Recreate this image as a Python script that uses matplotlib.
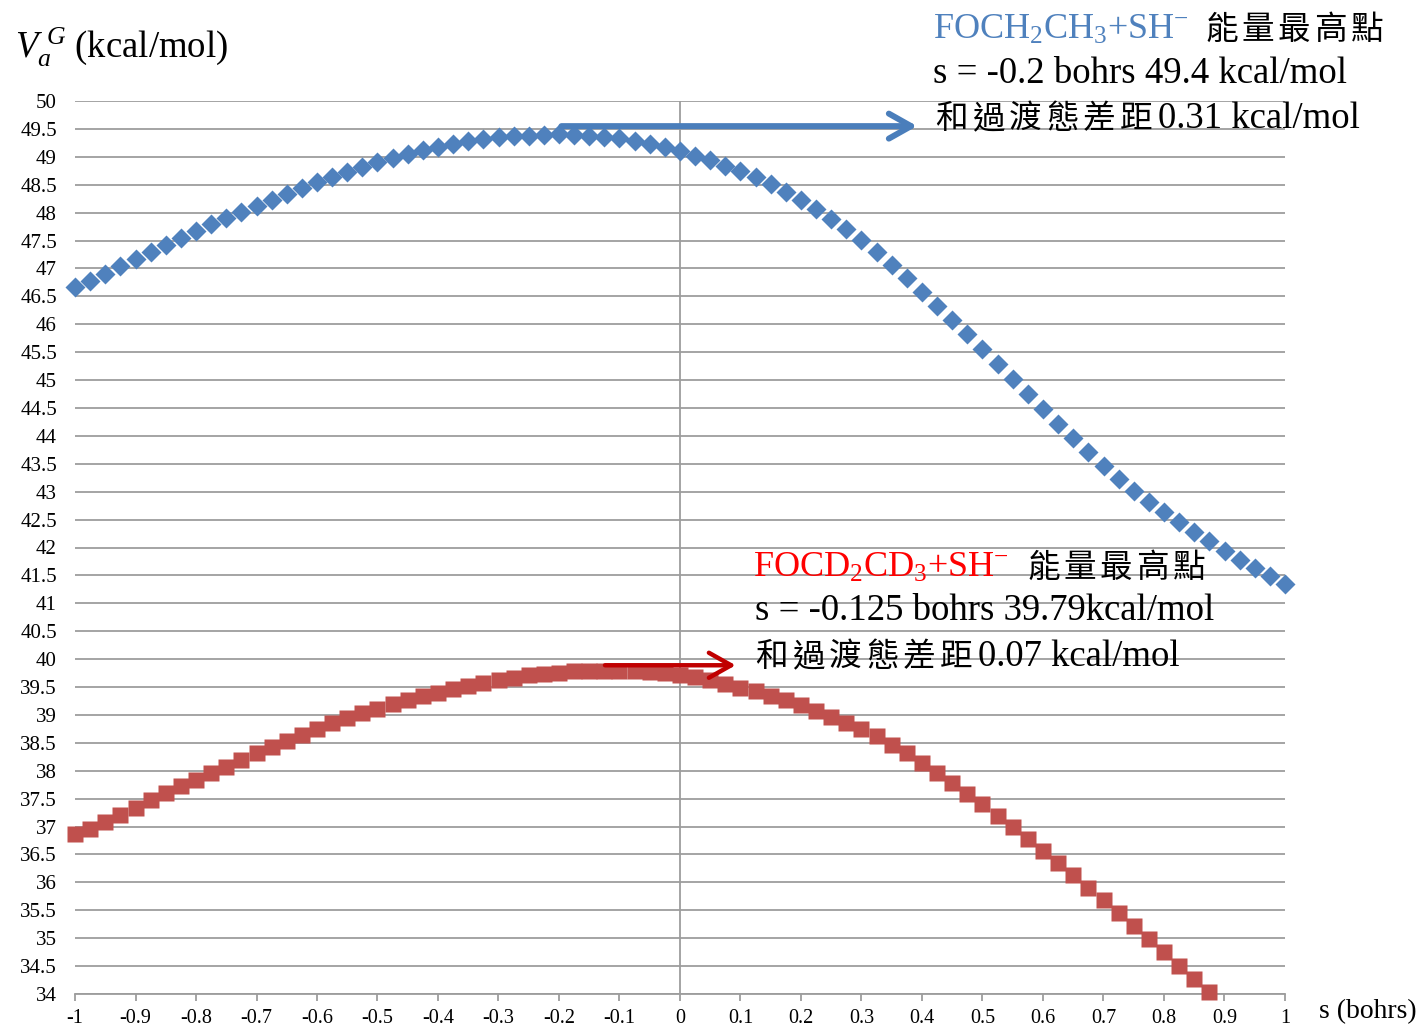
import numpy as np
import matplotlib.pyplot as plt

plt.rcParams['font.family'] = ['Liberation Serif', 'Noto Sans CJK TC', 'DejaVu Sans']
plt.rcParams['mathtext.fontset'] = 'custom'
plt.rcParams['mathtext.rm'] = 'Liberation Serif'
plt.rcParams['mathtext.it'] = 'Liberation Serif:italic'

# reaction coordinate s (bohrs), sampled every 0.025
s_grid = np.linspace(-1, 1, 81)

# V_a^G for FOCH2CH3 + SH-  (kcal/mol)
v_h = [46.66, 46.77, 46.90, 47.04, 47.17, 47.29, 47.42, 47.55, 47.67, 47.79,
       47.90, 48.02, 48.12, 48.23, 48.33, 48.44, 48.54, 48.64, 48.73, 48.82,
       48.90, 48.98, 49.05, 49.12, 49.18, 49.23, 49.28, 49.32, 49.35, 49.37,
       49.38, 49.39, 49.40, 49.39, 49.38, 49.36, 49.33, 49.28, 49.23, 49.17,
       49.10, 49.02, 48.94, 48.84, 48.74, 48.63, 48.51, 48.37, 48.22, 48.06,
       47.89, 47.71, 47.51, 47.30, 47.07, 46.83, 46.58, 46.33, 46.08, 45.82,
       45.56, 45.29, 45.02, 44.75, 44.48, 44.22, 43.96, 43.71, 43.46, 43.23,
       43.02, 42.82, 42.63, 42.45, 42.28, 42.11, 41.94, 41.78, 41.63, 41.49,
       41.35]

# V_a^G for FOCD2CD3 + SH-  (kcal/mol), s = -1 ... 0.875
v_d = [36.86, 36.96, 37.08, 37.21, 37.33, 37.47, 37.60, 37.72, 37.84, 37.96,
       38.07, 38.19, 38.31, 38.42, 38.53, 38.64, 38.75, 38.85, 38.94, 39.03,
       39.11, 39.19, 39.27, 39.34, 39.40, 39.46, 39.52, 39.57, 39.62, 39.67,
       39.71, 39.74, 39.76, 39.78, 39.78, 39.79, 39.78, 39.78, 39.77, 39.75,
       39.72, 39.68, 39.62, 39.56, 39.49, 39.42, 39.34, 39.26, 39.17, 39.07,
       38.97, 38.86, 38.75, 38.62, 38.47, 38.31, 38.14, 37.96, 37.78, 37.59,
       37.40, 37.19, 36.99, 36.78, 36.56, 36.35, 36.13, 35.90, 35.68, 35.45,
       35.21, 34.98, 34.75, 34.51, 34.27, 34.03]

x_ticks = [-1, -0.9, -0.8, -0.7, -0.6, -0.5, -0.4, -0.3, -0.2, -0.1,
           0, 0.1, 0.2, 0.3, 0.4, 0.5, 0.6, 0.7, 0.8, 0.9, 1]
x_labels = ['-1', '-0.9', '-0.8', '-0.7', '-0.6', '-0.5', '-0.4', '-0.3', '-0.2', '-0.1',
            '0', '0.1', '0.2', '0.3', '0.4', '0.5', '0.6', '0.7', '0.8', '0.9', '1']
y_ticks = np.arange(34, 50.01, 0.5)

W, H = 1425, 1030
GRID = '#9d9d9d'
BLUE = '#4F81BD'
RED = '#C0504D'

fig = plt.figure(figsize=(W / 100, H / 100), dpi=100)
ax = fig.add_axes([75 / W, 1 - 994 / H, (1285 - 75) / W, (994 - 101) / H])

ax.set_xlim(-1, 1)
ax.set_ylim(34, 50)
ax.set_yticks(y_ticks)
ax.set_yticklabels(['%g' % v for v in y_ticks])
ax.set_xticks(x_ticks)
ax.set_xticklabels(x_labels)
ax.grid(axis='y', color=GRID, lw=1.3)
ax.set_axisbelow(True)
ax.axvline(0, color=GRID, lw=1.3, zorder=1)

for side in ['top', 'right', 'left']:
    ax.spines[side].set_visible(False)
ax.spines['bottom'].set_color(GRID)
ax.spines['bottom'].set_linewidth(1.3)
ax.tick_params(axis='y', length=0, pad=13, labelsize=15)
ax.tick_params(axis='x', direction='out', length=5, width=1.3, color=GRID,
               pad=6, labelsize=14.5)

ax.plot(s_grid[:len(v_d)], v_d, ls='none', marker='s', ms=11,
        color=RED, mec='none', zorder=3, clip_on=False)
ax.plot(s_grid, v_h, ls='none', marker='D', ms=10.5,
        color=BLUE, mec='none', zorder=3, clip_on=False)

# arrows from the maxima to the notes
ax.annotate('', xy=(0.392, 49.55), xytext=(-0.196, 49.55),
            arrowprops=dict(arrowstyle='->,head_length=0.8,head_width=0.45',
                            lw=4.3, color='#4A7EBB', mutation_scale=20,
                            shrinkA=0, shrinkB=0), zorder=4)
ax.annotate('', xy=(0.092, 39.89), xytext=(-0.124, 39.89),
            arrowprops=dict(arrowstyle='->,head_length=0.8,head_width=0.45',
                            lw=3.2, color='#C00000', mutation_scale=20,
                            shrinkA=0, shrinkB=0), zorder=4)


def put(x, y, txt, **kw):
    return fig.text(x / W, 1 - y / H, txt, va='baseline', **kw)


def cjk(x, y, txt, pitch, size=23.5):
    for i, ch in enumerate(txt):
        put(x + i * pitch, y, ch, fontsize=size, family='Noto Sans CJK TC')


# notes for FOCH2CH3
put(933, 39, r'FOCH$_2$CH$_3$+SH$^{-}$', fontsize=26, color=BLUE)
cjk(1205, 39, '能量最高點', 36.5)
put(933, 83, 's = -0.2 bohrs 49.4 kcal/mol', fontsize=26.5)
cjk(935, 128, '和過渡態差距', 37)
put(1158, 128, '0.31 kcal/mol', fontsize=26.5)

# notes for FOCD2CD3
put(753, 577, r'FOCD$_2$CD$_3$+SH$^{-}$', fontsize=26, color='#FF0000')
cjk(1027, 577, '能量最高點', 36.5)
put(755, 620, 's = -0.125 bohrs 39.79kcal/mol', fontsize=26.5)
cjk(755, 666, '和過渡態差距', 37)
put(978, 666, '0.07 kcal/mol', fontsize=26.5)

# axis titles
put(15, 58, r'$V_a^{\ G}$ (kcal/mol)', fontsize=26.5)
put(1319, 1018, 's (bohrs)', fontsize=20)

fig.savefig('out.png', dpi=100)
